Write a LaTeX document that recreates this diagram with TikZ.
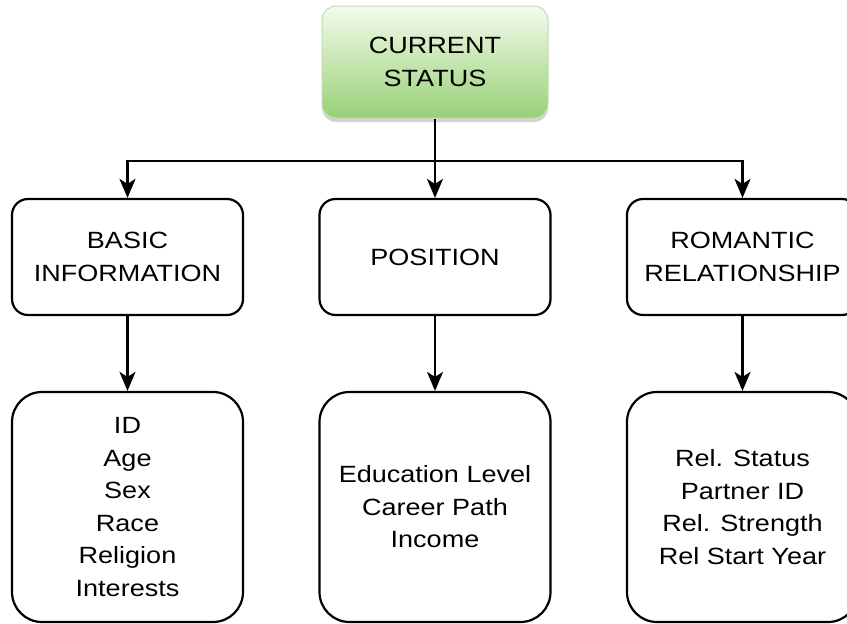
\documentclass[tikz,border=0pt]{standalone}
\usepackage{fontspec}
\setmainfont{Liberation Sans}[FakeStretch=1.15]
\usetikzlibrary{arrows.meta,shadows}
\definecolor{topgreen}{HTML}{F3FAEE}
\definecolor{midgreen}{HTML}{C6E6B0}
\definecolor{lowgreen}{HTML}{97D077}
\definecolor{rimgreen}{HTML}{C2DDB2}
\tikzset{%
    box/.style={draw=black,line width=2.2pt,fill=white,align=center,
        font=\fontsize{23.5}{32.5}\selectfont}
}

\begin{document}
\begin{tikzpicture}[x=1pt,y=1pt,
        topbox/.style={box,draw=rimgreen,line width=1pt,rounded corners=14pt,
            minimum width=226pt,minimum height=112pt,
            top color=topgreen,bottom color=lowgreen,middle color=midgreen,
            drop shadow={shadow xshift=0pt,shadow yshift=-4pt,opacity=.35}},
        midbox/.style={box,rounded corners=16pt,minimum width=231pt,minimum height=116pt},
        lowbox/.style={box,rounded corners=30pt,minimum width=231pt,minimum height=230pt},
        arr/.style={line width=2.2pt,-{Stealth[length=19pt,width=16pt,inset=5pt]}}
        ]
        \useasboundingbox (0,0) rectangle (847,-624);

        \node[topbox] (cur) at (435,-62){CURRENT\\STATUS};

        \node[midbox] (basic) at (127.5,-257){BASIC\\INFORMATION};
        \node[midbox] (pos) at (435,-257){POSITION};
        \node[midbox] (rom) at (742.5,-257){ROMANTIC\\RELATIONSHIP};

        \node[lowbox] (basicL) at (127.5,-507){ID\\Age\\Sex\\Race\\Religion\\Interests};
        \node[lowbox] (posL) at (435,-507){Education Level\\Career Path\\Income};
        \node[lowbox] (romL) at (742.5,-507){Rel. Status\\Partner ID\\Rel. Strength\\Rel Start Year};

        \coordinate (split) at (435,-161);

        \draw[arr] (cur) -- (pos);
        \draw[arr] (split) -| (basic);
        \draw[arr] (split) -| (rom);
        \draw[arr] (basic) -- (basicL);
        \draw[arr] (pos) -- (posL);
        \draw[arr] (rom) -- (romL);
    \end{tikzpicture}
\end{document}
